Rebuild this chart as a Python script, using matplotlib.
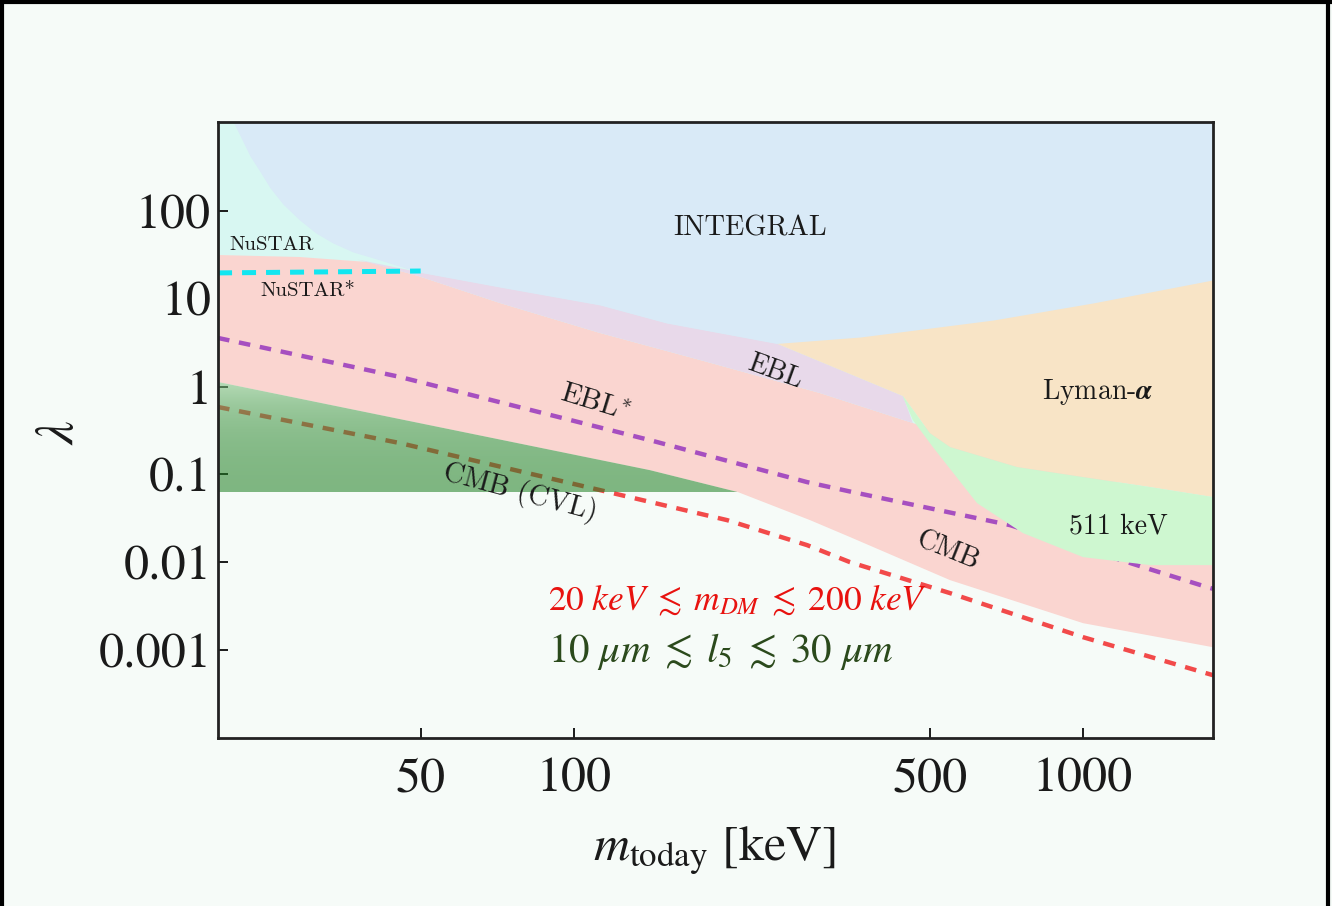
import numpy as np
import matplotlib
matplotlib.use("Agg")
import matplotlib.pyplot as plt
from matplotlib.patches import Polygon
from matplotlib.lines import Line2D
from matplotlib.colors import LinearSegmentedColormap
from matplotlib.ticker import NullLocator

# --- limites das regioes (m em keV, lambda) ---
integral_m = [21.3, 22.3, 23.1, 24.2, 25.3, 26.8, 28.9, 31.1, 33.6, 36.8, 40.3, 49.4,
              71.5, 112.5, 152, 250, 365, 666, 1046, 1800]
integral_lam = [1100, 644, 423, 278, 183, 120, 79, 56.2, 43.2, 34.1, 29.2, 20.2,
                13.6, 8.5, 5.3, 3.1, 3.67, 5.73, 8.96, 16.4]

pink_top_m = [20, 28.9, 39.4, 49.4, 71.5, 112.5, 176.8, 304, 463, 1800]
pink_top_lam = [31.5, 29.9, 26.2, 18.2, 8.96, 4.08, 2.01, 0.846, 0.385, 0.0393]

pink_bot_m = [20, 141, 210, 291, 348.5, 548, 1000, 1800]
pink_bot_lam = [1.13, 0.112, 0.063, 0.0302, 0.0194, 0.00627, 0.00203, 0.00108]

ebl_top_m = [37.5, 49.4, 71.5, 112.5, 152, 250, 443]
ebl_top_lam = [28.0, 20.2, 13.6, 8.5, 5.3, 3.1, 0.78]

g511_top_m = [443, 500, 548, 742, 1000, 1354, 1800]
g511_top_lam = [0.78, 0.296, 0.205, 0.1215, 0.0934, 0.0719, 0.0553]
g511_bot_m = [443, 463, 507, 619, 762, 1000, 1354, 1800]
g511_bot_lam = [0.76, 0.417, 0.205, 0.0472, 0.0215, 0.01146, 0.0093, 0.0093]

cvl_floor = 0.063

# --- linhas tracejadas ---
nustar_star_m = [20, 50]
nustar_star_lam = [19.7, 20.7]

ebl_star_m = [20, 45.5, 141, 287, 348.5, 719, 1312, 1752, 1800]
ebl_star_lam = [3.58, 1.29, 0.246, 0.0819, 0.0640, 0.0265, 0.00882, 0.00522, 0.0050]

cvl_star_m = [20, 45.5, 112.5, 200, 287, 348.5, 548, 1000, 1800]
cvl_star_lam = [0.586, 0.228, 0.0664, 0.0302, 0.0157, 0.01005, 0.00446, 0.001406, 0.000519]

x_ticks = [50, 100, 500, 1000]
x_tick_labels = ["50", "100", "500", "1000"]
y_ticks = [0.001, 0.01, 0.1, 1, 10, 100]
y_tick_labels = ["0.001", "0.01", "0.1", "1", "10", "100"]

BG = "#f6fbf8"
TOP = 3000

plt.rcParams["font.family"] = "STIXGeneral"
plt.rcParams["mathtext.fontset"] = "stix"

fig = plt.figure(figsize=(13.32, 9.06), dpi=100, facecolor=BG)
ax = fig.add_axes([0.1637, 0.1854, 0.747, 0.680])
ax.set_facecolor(BG)
ax.set_xscale("log")
ax.set_yscale("log")

# NuSTAR (fundo ciano acima do CMB)
ax.fill_between(pink_top_m, pink_top_lam, TOP, color="#d8f7f2", lw=0, zorder=1)

# CMB (rosa)
ax.fill(pink_top_m + pink_bot_m[::-1], pink_top_lam + pink_bot_lam[::-1],
        color="#fad5d0", lw=0, zorder=2)

# EBL (lilas)
ebl_m = ebl_top_m + [463, 304, 176.8, 112.5, 71.5, 49.4, 37.5]
ebl_lam = ebl_top_lam + [0.385, 0.846, 2.01, 4.08, 8.96, 18.2, 28.0]
ax.fill(ebl_m, ebl_lam, color="#e8d9ea", lw=0, zorder=3)

# Lyman-alpha (laranja)
ly_m = [250] + g511_top_m + [1800, 250]
ly_lam = [3.1] + g511_top_lam + [TOP, TOP]
ax.fill(ly_m, ly_lam, color="#f8e4c6", lw=0, zorder=3)

# INTEGRAL (azul)
ax.fill_between(integral_m, integral_lam, TOP, color="#d9eaf7", lw=0, zorder=4)

# linhas tracejadas abaixo das regioes verdes
ax.plot(ebl_star_m, ebl_star_lam, color="#a64fc0", lw=3.2, dashes=(2.6, 2.2), zorder=5)
ax.plot(cvl_star_m, cvl_star_lam, color="#f24a4a", lw=3.2, dashes=(2.6, 2.2), zorder=5)

# 511 keV (verde claro)
ax.fill(g511_top_m + g511_bot_m[::-1], g511_top_lam + g511_bot_lam[::-1],
        color="#cef7d0", lw=0, zorder=6)

# CMB (CVL) com gradiente verde
cvl_m = pink_bot_m[:3] + [20]
cvl_lam = pink_bot_lam[:3] + [cvl_floor]
cvl_poly = Polygon(np.column_stack([cvl_m, cvl_lam]), closed=True,
                   transform=ax.transData, facecolor="none", edgecolor="none")
ax.add_patch(cvl_poly)
grad = np.linspace(0, 1, 256).reshape(-1, 1)
cmap = LinearSegmentedColormap.from_list("cvl", ["#1f7f22", "#86c486"])
im = ax.imshow(grad, extent=(20, 210, cvl_floor, 1.13), origin="lower",
               aspect="auto", cmap=cmap, alpha=0.56, zorder=7)
im.set_clip_path(cvl_poly)

ax.plot(nustar_star_m, nustar_star_lam, color="#12e6f0", lw=3.6, dashes=(2.8, 2.0), zorder=8)

ax.set_xlim(20, 1800)
ax.set_ylim(1e-4, 1030)

# --- rotulos das regioes ---
cm = dict(family="cmr10", color="#1a1a1a", ha="center", va="center",
          math_fontfamily="cm", zorder=10)
ax.text(222, 64, "INTEGRAL", fontsize=20.5, **cm)
ax.text(25.5, 41, "NuSTAR", fontsize=15, **cm)
ax.text(30.0, 12.3, "NuSTAR*", fontsize=15, **cm)
ax.text(248, 1.47, "EBL", fontsize=20, rotation=-20, **cm)
ax.text(110, 0.65, "EBL$^{*}$", fontsize=21, rotation=-17, **cm)
ax.text(78.3, 0.063, "CMB (CVL)", fontsize=20.5, rotation=-15, **cm)
ax.text(543, 0.0134, "CMB", fontsize=20, rotation=-22, **cm)
ax.text(1070, 0.868, r"Lyman-$\boldsymbol{\alpha}$", fontsize=20, **cm)
ax.text(1172, 0.0258, "511 keV", fontsize=20, **cm)

ax.text(88.9, 0.0037, r"$20\ keV \;\lesssim\; m_{DM} \;\lesssim\; 200\ keV$",
        fontsize=25.5, color="#e8120f", ha="left", va="center", zorder=10)
ax.text(88.9, 0.00097, r"$10\ \mu m \;\lesssim\; l_5 \;\lesssim\; 30\ \mu m$",
        fontsize=29.5, color="#2b4a1c", ha="left", va="center", zorder=10)

# --- eixos ---
ax.xaxis.set_minor_locator(NullLocator())
ax.yaxis.set_minor_locator(NullLocator())
ax.set_xticks(x_ticks, x_tick_labels)
ax.set_yticks(y_ticks, y_tick_labels)
ax.tick_params(direction="in", length=7, width=1.4, labelsize=36, colors="#1a1a1a")
ax.tick_params(axis="x", pad=14)
ax.tick_params(axis="y", pad=5)
for s in ax.spines.values():
    s.set_linewidth(2.0)
    s.set_color("#222222")
    s.set_zorder(12)

ax.set_xlabel(r"$m_{\rm today}$ [keV]", fontsize=36, color="#1a1a1a")
ax.xaxis.set_label_coords(0.4985, -0.14)
ax.set_ylabel(r"$\lambda$", fontsize=38, color="#1a1a1a")
ax.yaxis.set_label_coords(-0.134, 0.497)

# moldura preta da captura
for xs, ys in [([0, 1], [0.998, 0.998]), ([0.0015, 0.0015], [0, 1]), ([0.997, 0.997], [0, 1])]:
    fig.add_artist(Line2D(xs, ys, transform=fig.transFigure, color="black", lw=3))

fig.savefig("out.png", dpi=100, facecolor=BG)
